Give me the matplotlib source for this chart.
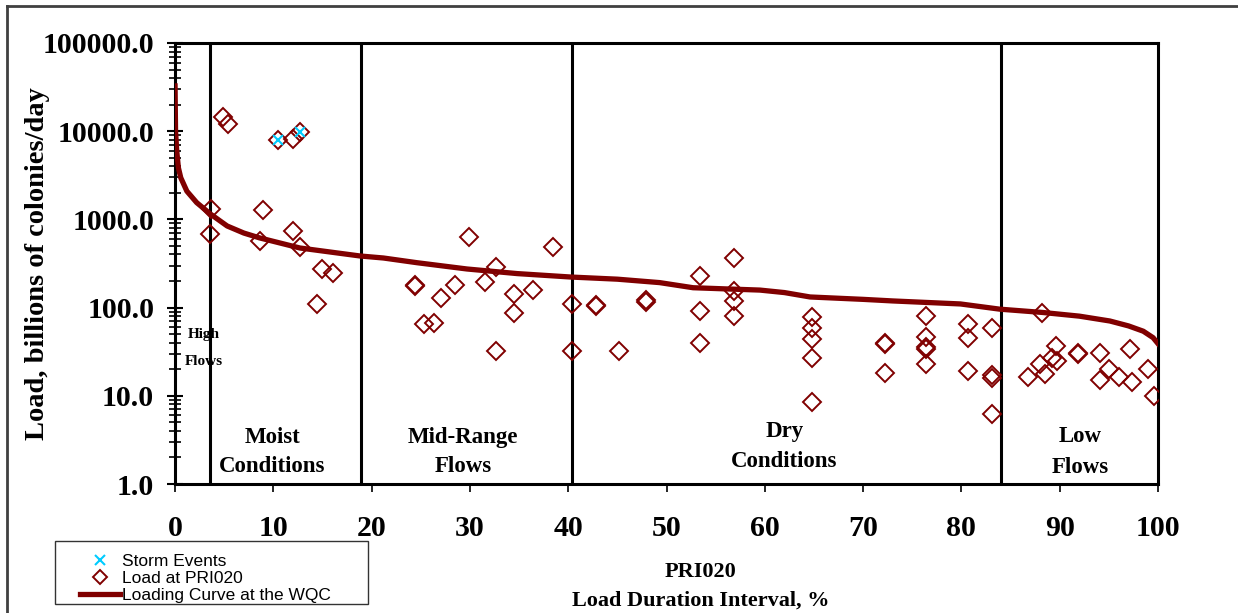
import numpy as np
import matplotlib
matplotlib.use('Agg')
import matplotlib.pyplot as plt
from matplotlib.lines import Line2D
from matplotlib.patches import Rectangle
from matplotlib.ticker import LogLocator, NullFormatter, FuncFormatter

# Loading curve at the WQC (duration interval %, load)
curve_x = [0, 0.05, 0.17, 0.34, 0.58, 1.2, 2.2, 3.6, 5.3, 7.0, 8.6, 12.7, 18.8,
           21.2, 24.6, 29.7, 34.8, 40.3, 45.0, 49.3, 52.7, 56.0, 59.5, 62.0,
           64.6, 70.0, 73.0, 79.9, 83.9, 88.3, 92.0, 95.1, 97.0, 98.5, 99.5, 100]
curve_y = [32600, 10000, 5960, 3850, 2970, 2090, 1550, 1150, 842, 700, 617, 474, 385,
           365, 323, 274, 243, 222, 210, 192, 168, 163, 158, 148,
           132, 124, 119, 110, 96, 88, 80, 70.5, 62, 54, 45.6, 39]

# Measured loads at PRI020
load_x = [4.9, 5.4, 10.5, 12.0, 12.7, 3.7, 3.6, 8.9, 8.6, 12.0, 12.7, 15.0, 16.1, 14.4,
          24.4, 24.4, 25.3, 26.3, 27.1, 28.5, 29.9, 31.5, 32.7, 32.7, 34.5, 34.5, 36.4, 38.5,
          40.4, 40.4, 42.8, 42.8, 45.2, 47.9, 47.9,
          53.4, 53.4, 53.4, 56.9, 56.9, 56.9, 56.9,
          64.8, 64.8, 64.8, 64.8, 64.8,
          72.2, 72.2, 72.2, 76.4, 76.4, 76.4, 76.4, 76.4,
          80.7, 80.7, 80.7, 83.1, 83.1, 83.1, 83.1,
          88.2, 89.6, 89.2, 89.7, 88.0, 88.5, 86.8, 91.9, 91.9, 94.1, 94.1, 95.0,
          96.0, 97.4, 97.1, 99.0, 99.6]
load_y = [14500, 12200, 7950, 8100, 9900, 1300, 689, 1277, 569, 738, 490, 272, 245, 109,
          176, 182, 64.6, 67.5, 129, 180, 637, 195, 291, 32.2, 144, 87.5, 157, 486,
          109, 32.2, 104, 106, 32.2, 121, 116,
          228, 91.5, 39.4, 362, 154, 119, 80,
          78, 58, 43.7, 27, 8.5,
          40, 38.5, 18.3, 80, 46.4, 35.7, 33.5, 23.1,
          65.7, 45.6, 19.1, 58, 17.2, 16.1, 6.3,
          87.5, 36.7, 27, 24.8, 22.7, 17.8, 16.3, 30, 30.5, 30.8, 15, 20,
          16.3, 14.4, 33.6, 20, 10]

# Storm events
storm_x = [10.5, 12.7]
storm_y = [7950, 9900]

# Flow condition boundaries and zone labels
zone_lines = [3.6, 18.9, 40.4, 84.0]
zone_labels = [('Moist', 'Conditions', 9.9, 3.41, 1.56),
               ('Mid-Range', 'Flows', 29.3, 3.41, 1.56),
               ('Dry', 'Conditions', 62.0, 3.92, 1.82),
               ('Low', 'Flows', 92.1, 3.5, 1.53)]

serif = 'Liberation Serif'
red = '#800000'

fig = plt.figure(figsize=(12.38, 6.13), dpi=100)
ax = fig.add_axes([0.1414, 0.2104, 0.794, 0.7195])

for xv in zone_lines:
    ax.axvline(xv, color='black', lw=2.2, zorder=1)

ax.plot(curve_x, curve_y, color=red, lw=3.8, zorder=3, label='Loading Curve at the WQC')
ax.plot(load_x, load_y, ls='none', marker='D', ms=9.5, mfc='none', mec=red, mew=1.4,
        zorder=4, label='Load at PRI020')
ax.plot(storm_x, storm_y, ls='none', marker='x', ms=7, mec='#00CCFF', mew=1.5,
        zorder=5, label='Storm Events')

ax.set_yscale('log')
ax.set_xlim(0, 100)
ax.set_ylim(1, 100000)
ax.set_xticks(np.arange(0, 101, 10))
ax.yaxis.set_major_locator(LogLocator(base=10, numticks=10))
ax.yaxis.set_minor_locator(LogLocator(base=10, subs=np.arange(2, 10), numticks=20))
ax.yaxis.set_minor_formatter(NullFormatter())
ax.yaxis.set_major_formatter(FuncFormatter(lambda v, p: '%.1f' % v))

for sp in ax.spines.values():
    sp.set_linewidth(2.2)
ax.tick_params(axis='y', which='major', direction='inout', length=12, width=1.5, pad=9)
ax.tick_params(axis='y', which='minor', direction='inout', length=9, width=1.2)
ax.tick_params(axis='x', which='major', direction='out', length=6, width=1.2, pad=16)
for lab in ax.get_xticklabels() + ax.get_yticklabels():
    lab.set_fontfamily(serif)
    lab.set_fontweight('bold')
    lab.set_fontsize(21.5)

ax.set_ylabel('Load, billions of colonies/day', fontfamily=serif, fontweight='bold',
              fontsize=20.5, labelpad=-5.5)

# zone labels
ax.text(2.9, 50, 'High', fontfamily=serif, fontweight='bold', fontsize=11, ha='center', va='center')
ax.text(2.9, 24.8, 'Flows', fontfamily=serif, fontweight='bold', fontsize=11, ha='center', va='center')
for top, bottom, xc, y1, y2 in zone_labels:
    ax.text(xc, y1, top, fontfamily=serif, fontweight='bold', fontsize=16.5, ha='center', va='center')
    ax.text(xc, y2, bottom, fontfamily=serif, fontweight='bold', fontsize=16.5, ha='center', va='center')

fig.text(0.566, 0.067, 'PRI020', fontfamily=serif, fontweight='bold', fontsize=16,
         ha='center', va='center')
fig.text(0.566, 0.021, 'Load Duration Interval, %', fontfamily=serif, fontweight='bold',
         fontsize=16, ha='center', va='center')

# legend: entries without frame, box drawn separately
handles, labels = ax.get_legend_handles_labels()
order = [2, 1, 0]
leg = fig.legend([handles[i] for i in order], [labels[i] for i in order],
                 loc='lower left', bbox_to_anchor=(80 / 1238, 10 / 613),
                 bbox_transform=fig.transFigure, frameon=False,
                 borderaxespad=0, borderpad=0,
                 prop={'family': 'Liberation Sans', 'size': 12.5}, labelspacing=0.1,
                 handlelength=2.3, handletextpad=0.1)
for h in leg.legend_handles:
    if h.get_marker() == 'D':
        h.set_markersize(7)
fig.add_artist(Rectangle((55 / 1238, 9 / 613), 313 / 1238, 63 / 613,
                         transform=fig.transFigure, fill=False, edgecolor='#333333', lw=1.0))

# outer frame of the figure
fig.add_artist(Line2D([0.0057, 1.0], [0.990, 0.990], transform=fig.transFigure,
                      color='#404040', lw=2))
fig.add_artist(Line2D([0.0057, 0.0057], [0.0, 0.990], transform=fig.transFigure,
                      color='#404040', lw=2))

fig.savefig('out.png', dpi=100)
